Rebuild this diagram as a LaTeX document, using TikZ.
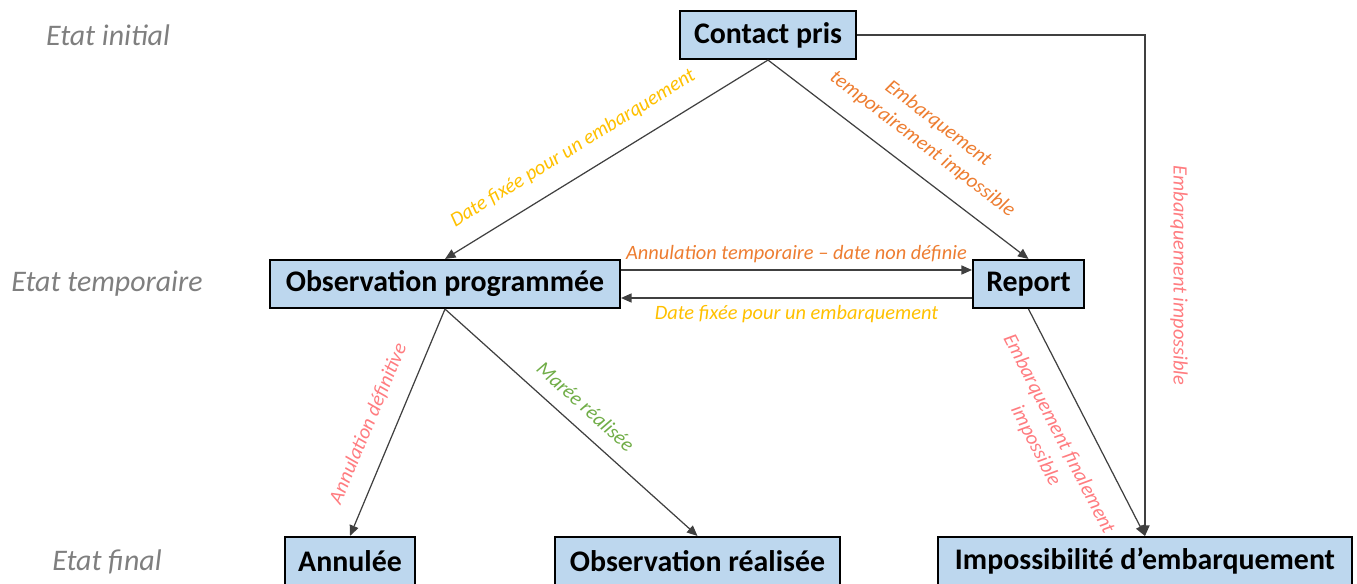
\documentclass[tikz,border=0pt]{standalone}
\usepackage{fontspec}
\setmainfont{Carlito}
\usetikzlibrary{arrows.meta}
\definecolor{boxblue}{HTML}{BDD7EE}
\definecolor{datecol}{HTML}{FFC000}
\definecolor{tempcol}{HTML}{ED7D31}
\definecolor{impcol}{HTML}{FF7C80}
\definecolor{donecol}{HTML}{70AD47}
\definecolor{etatcol}{HTML}{7F7F7F}
\definecolor{linkcol}{HTML}{404040}

\begin{document}
\begin{tikzpicture}[>={Triangle[length=3pt,width=2.6pt]},
    state/.style={draw=black, line width=0.6pt, fill=boxblue, minimum height=0.48cm,
      inner sep=0pt, font=\fontsize{8.5}{10}\selectfont\bfseries},
    link/.style={draw=linkcol, line width=0.35pt},
    lbl/.style={font=\fontsize{5.8}{7.4}\selectfont\itshape, align=center, inner sep=1pt},
    etat/.style={text=etatcol, font=\fontsize{8.5}{10}\selectfont\itshape}]
      % Fix the frame
      \useasboundingbox (0,0) rectangle (13.57,5.83);
      % Draw the row titles
      \node[etat] (etatinit) at (1.08,5.48) {Etat initial};
      \node[etat] (etattemp) at (1.07,2.99) {Etat temporaire};
      \node[etat] (etatfin) at (1.07,0.21) {Etat final};
      % Draw the states
      \node[state, minimum width=1.76cm] (contact) at (7.68,5.48) {Contact pris};
      \node[state, minimum width=3.50cm] (obsprog) at (4.45,2.99) {Observation programmée};
      \node[state, minimum width=1.11cm] (report) at (10.285,2.99) {Report};
      \node[state, minimum width=1.30cm] (annulee) at (3.50,0.22) {Annulée};
      \node[state, minimum width=2.85cm] (obsreal) at (6.975,0.22) {Observation réalisée};
      \node[state, minimum width=4.14cm] (imposs) at (11.45,0.22) {Impossibilité d’embarquement};
      % Draw the transitions from the initial state
      \draw[link, <-] (obsprog.north) -- (contact.south)
      node[lbl, text=datecol, pos=0.44, sloped, above=4pt] {Date fixée pour un embarquement};
      \draw[link, ->] (contact.south) -- (report.north)
      node[lbl, text=tempcol, pos=0.53, sloped, above=4pt] {Embarquement\\temporairement impossible};
      \draw[link, ->] (contact.east) -| (imposs.north)
      node[lbl, text=impcol, pos=0.74, sloped, above=6pt] {Embarquement impossible};
      % Draw the transitions between temporary states
      \draw[link, ->] ([yshift=1.4mm]obsprog.east) -- ([yshift=1.4mm]report.west)
      node[lbl, text=tempcol, midway, above=1pt] {Annulation temporaire – date non définie};
      \draw[link, <-] ([yshift=-1.4mm]obsprog.east) -- ([yshift=-1.4mm]report.west)
      node[lbl, text=datecol, midway, below=1pt] {Date fixée pour un embarquement};
      % Draw the transitions to the final states
      \draw[link, <-] (annulee.north) -- (obsprog.south)
      node[lbl, text=impcol, pos=0.45, sloped, above=4pt] {Annulation définitive};
      \draw[link, ->] (obsprog.south) -- (obsreal.north)
      node[lbl, text=donecol, midway, sloped, above=3pt] {Marée réalisée};
      \draw[link, ->] (report.south) -- (imposs.north)
      node[lbl, text=impcol, pos=0.49, sloped, below=5pt] {Embarquement finalement\\impossible};
    \end{tikzpicture}
\end{document}
